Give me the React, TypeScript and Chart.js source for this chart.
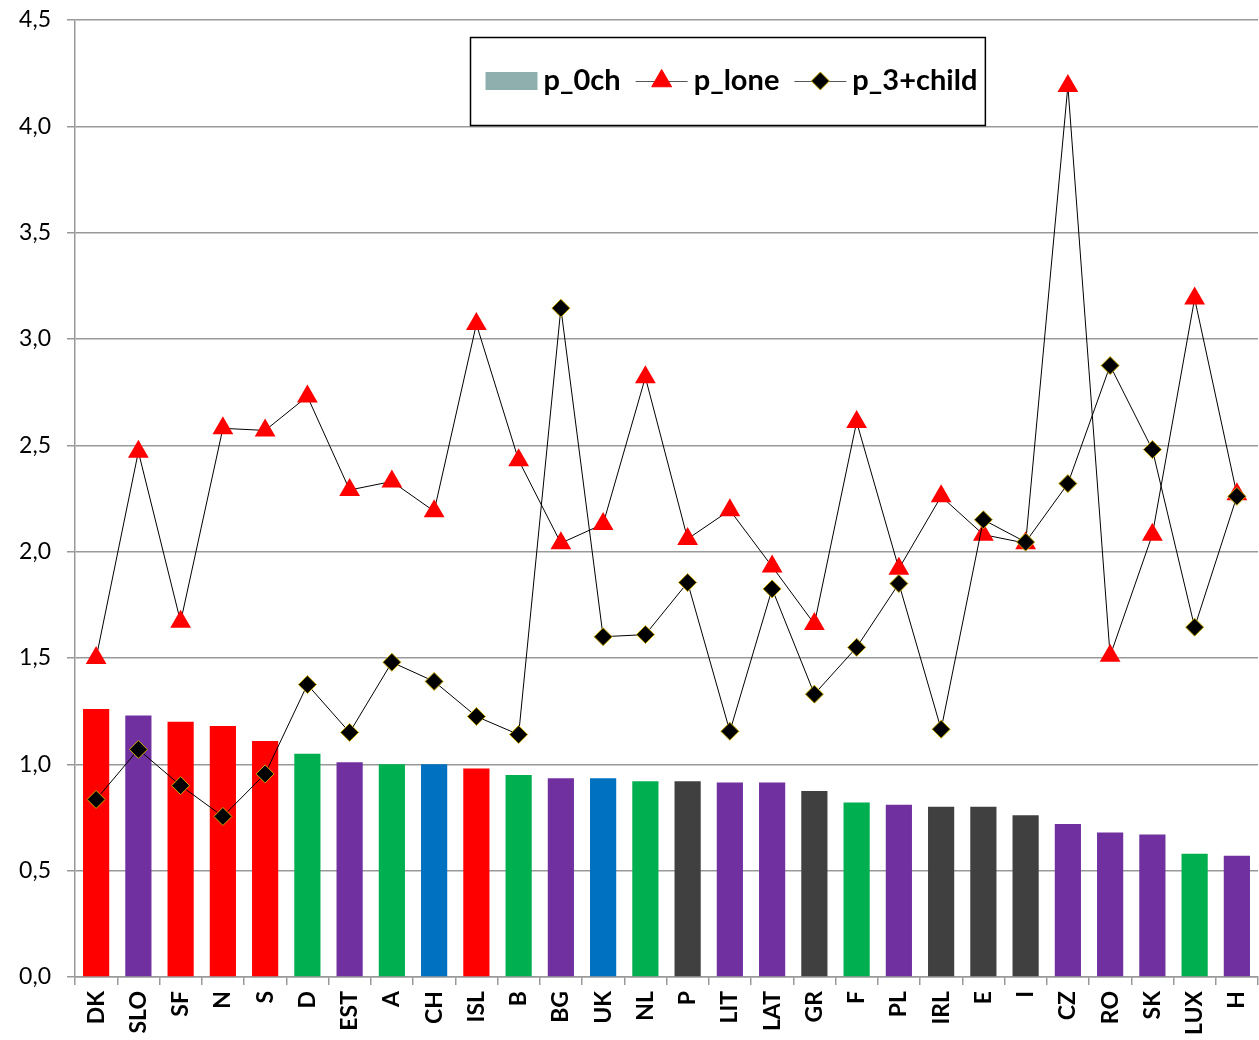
import React, { useEffect, useRef } from 'react';
import { Chart, registerables } from 'chart.js';

Chart.register(...registerables);

const categories = ['DK', 'SLO', 'SF', 'N', 'S', 'D', 'EST', 'A', 'CH', 'ISL', 'B', 'BG', 'UK', 'NL', 'P', 'LIT', 'LAT', 'GR', 'F', 'PL', 'IRL', 'E', 'I', 'CZ', 'RO', 'SK', 'LUX', 'H'];
const countryGroups = ['nordic', 'eastern', 'nordic', 'nordic', 'nordic', 'continental', 'eastern', 'continental', 'liberal', 'nordic', 'continental', 'eastern', 'liberal', 'continental', 'southern', 'eastern', 'eastern', 'southern', 'continental', 'eastern', 'southern', 'southern', 'southern', 'eastern', 'eastern', 'eastern', 'continental', 'eastern'];
const p0ch = [1.26, 1.23, 1.20, 1.18, 1.11, 1.05, 1.01, 1.00, 1.00, 0.98, 0.95, 0.935, 0.935, 0.92, 0.92, 0.915, 0.915, 0.875, 0.82, 0.81, 0.80, 0.80, 0.76, 0.72, 0.68, 0.67, 0.58, 0.57];
const pLone = [1.50, 2.47, 1.67, 2.58, 2.57, 2.73, 2.29, 2.33, 2.19, 3.07, 2.43, 2.04, 2.13, 2.82, 2.06, 2.195, 1.93, 1.66, 2.61, 1.92, 2.26, 2.08, 2.04, 4.19, 1.51, 2.08, 3.19, 2.27];
const p3child = [0.835, 1.07, 0.90, 0.755, 0.955, 1.375, 1.15, 1.48, 1.39, 1.225, 1.14, 3.145, 1.60, 1.61, 1.855, 1.155, 1.825, 1.33, 1.55, 1.85, 1.165, 2.15, 2.045, 2.32, 2.875, 2.48, 1.645, 2.26];
const yTicks = [0, 0.5, 1.0, 1.5, 2.0, 2.5, 3.0, 3.5, 4.0, 4.5];
const seriesNames = ['p_0ch', 'p_lone', 'p_3+child'];

const groupColor: Record<string, string> = {
  nordic: '#FF0000',
  eastern: '#7030A0',
  continental: '#00B050',
  liberal: '#0070C0',
  southern: '#404040',
};

const FONT = 'Lato, "Open Sans", sans-serif';

const legendPlugin = {
  id: 'insideLegend',
  afterDraw(chart: any) {
    const ctx = chart.ctx as CanvasRenderingContext2D;
    const datasets = chart.data.datasets;
    ctx.save();
    ctx.font = `bold 29px ${FONT}`;
    const symW = 52;
    const gapSym = 6;
    const gapItem = 15;
    const widths = datasets.map((d: any) => ctx.measureText(d.label).width);
    const content = widths.reduce((a: number, w: number) => a + symW + gapSym + w, 0) + gapItem * (datasets.length - 1);
    const padL = 15;
    const padR = 8;
    const boxW = content + padL + padR;
    const boxH = 88;
    const cx = 727;
    const boxX = Math.round(cx - boxW / 2) + 0.5;
    const boxY = 37.5;
    ctx.fillStyle = '#FFFFFF';
    ctx.fillRect(boxX, boxY, boxW, boxH);
    ctx.strokeStyle = '#000000';
    ctx.lineWidth = 1.5;
    ctx.strokeRect(boxX, boxY, boxW, boxH);
    const midY = 81;
    let x = boxX + padL;
    datasets.forEach((d: any, i: number) => {
      if (d.type === 'line') {
        ctx.strokeStyle = '#555555';
        ctx.lineWidth = 1;
        ctx.beginPath();
        ctx.moveTo(x, midY + 0.5);
        ctx.lineTo(x + symW, midY + 0.5);
        ctx.stroke();
        ctx.fillStyle = d.pointBackgroundColor;
        ctx.strokeStyle = d.pointBorderColor;
        ctx.lineWidth = d.pointBorderWidth || 0;
        const px = x + symW / 2;
        ctx.beginPath();
        if (d.pointStyle === 'triangle') {
          const r = 11.5;
          ctx.moveTo(px, midY - r);
          ctx.lineTo(px + r * 0.866, midY + r / 2);
          ctx.lineTo(px - r * 0.866, midY + r / 2);
        } else {
          const r = 9;
          ctx.moveTo(px, midY - r);
          ctx.lineTo(px + r, midY);
          ctx.lineTo(px, midY + r);
          ctx.lineTo(px - r, midY);
        }
        ctx.closePath();
        ctx.fill();
        if (ctx.lineWidth > 0) ctx.stroke();
      } else {
        ctx.fillStyle = '#8FAFAF';
        ctx.fillRect(x, midY - 9, symW, 18);
      }
      x += symW + gapSym;
      ctx.fillStyle = '#000000';
      ctx.textBaseline = 'middle';
      ctx.textAlign = 'left';
      ctx.fillText(d.label, x, midY);
      x += widths[i] + gapItem;
    });
    ctx.restore();
  },
};

export default function App() {
  const canvasRef = useRef<HTMLCanvasElement | null>(null);

  useEffect(() => {
    if (!canvasRef.current) return;
    const chart = new Chart(canvasRef.current, {
      type: 'bar',
      data: {
        labels: categories,
        datasets: [
          {
            type: 'bar',
            label: seriesNames[0],
            data: p0ch,
            backgroundColor: countryGroups.map((g) => groupColor[g]),
            barPercentage: 0.62,
            categoryPercentage: 1,
            order: 2,
          } as any,
          {
            type: 'line',
            label: seriesNames[1],
            data: pLone,
            borderColor: '#000000',
            borderWidth: 1,
            pointStyle: 'triangle',
            pointRadius: 12,
            pointBackgroundColor: '#FF0000',
            pointBorderColor: '#FF0000',
            pointBorderWidth: 0,
            tension: 0,
            clip: false,
            order: 1,
          } as any,
          {
            type: 'line',
            label: seriesNames[2],
            data: p3child,
            borderColor: '#000000',
            borderWidth: 1,
            pointStyle: 'rectRot',
            pointRadius: 9,
            pointBackgroundColor: '#000000',
            pointBorderColor: '#C8A800',
            pointBorderWidth: 1,
            tension: 0,
            clip: false,
            order: 0,
          } as any,
        ],
      },
      options: {
        responsive: false,
        animation: false,
        maintainAspectRatio: false,
        layout: { autoPadding: false, padding: { top: 20, right: 1, left: 0, bottom: 0 } },
        plugins: {
          legend: { display: false },
          tooltip: { enabled: false },
          title: { display: false },
        },
        scales: {
          x: {
            grid: {
              offset: true,
              drawOnChartArea: false,
              drawTicks: true,
              tickLength: 8,
              color: '#999999',
              lineWidth: 1.5,
            },
            border: { color: '#999999', width: 1.5 },
            ticks: {
              autoSkip: false,
              minRotation: 90,
              maxRotation: 90,
              padding: 6,
              color: '#000000',
              font: { family: FONT, size: 23, weight: 'bold', lineHeight: 0.6 },
            },
            afterFit: (scale: any) => {
              scale.height = 63;
              scale.paddingLeft = 0;
              scale.paddingRight = 0;
            },
          },
          y: {
            min: 0,
            max: 4.5,
            afterBuildTicks: (scale: any) => {
              scale.ticks = yTicks.map((v) => ({ value: v }));
            },
            ticks: {
              stepSize: 0.5,
              padding: 16,
              color: '#000000',
              font: { family: FONT, size: 23 },
              callback: (v: any) => Number(v).toFixed(1).replace('.', ','),
            },
            grid: {
              color: '#999999',
              lineWidth: 1.5,
              tickLength: 8,
            },
            border: { color: '#999999', width: 1.5 },
            afterFit: (scale: any) => {
              scale.width = 75;
              scale.paddingTop = 0;
              scale.paddingBottom = 0;
            },
          },
        },
      },
      plugins: [legendPlugin],
    });
    return () => chart.destroy();
  }, []);

  return (
    <div style={{ position: 'absolute', left: 0, top: 0, width: 1259, height: 1040, background: '#FFFFFF' }}>
      <canvas ref={canvasRef} width={1259} height={1040} style={{ display: 'block', width: 1259, height: 1040 }} />
    </div>
  );
}
